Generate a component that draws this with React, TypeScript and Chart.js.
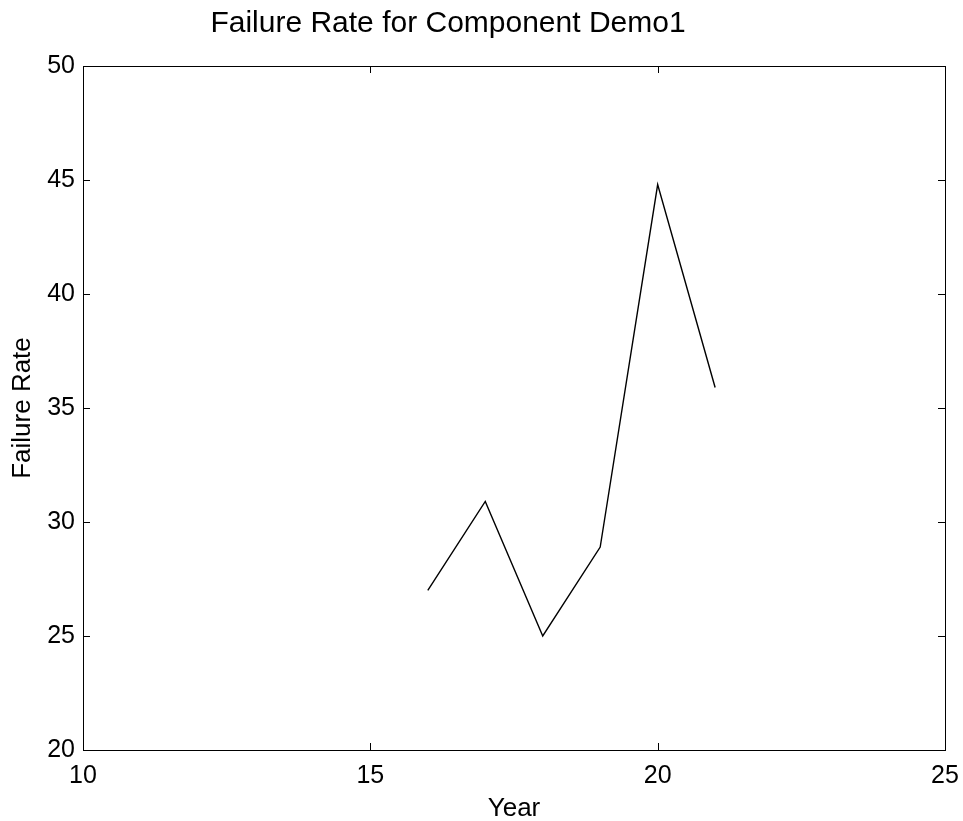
import React, { useEffect, useRef } from "react";
import { Chart, registerables } from "chart.js";

Chart.register(...registerables);

const years = [16, 17, 18, 19, 20, 21];
const failureRate = [27, 30.9, 25, 28.9, 44.8, 35.9];
const xTickValues = [10, 15, 20, 25];
const yTickValues = [20, 25, 30, 35, 40, 45, 50];
const chartTitle = "Failure Rate for Component Demo1";
const xAxisTitle = "Year";
const yAxisTitle = "Failure Rate";

const FONT = "'Liberation Sans', Arial, Helvetica, sans-serif";

const framePlugin = {
  id: "matlabFrame",
  afterLayout(chart: any) {
    const tb = chart.titleBlock;
    if (tb) {
      tb.left = 0;
      tb.right = 896;
    }
  },
  afterDatasetsDraw(chart: any) {
    const { ctx, chartArea: a, scales } = chart;
    const L = 7;
    ctx.save();
    ctx.strokeStyle = "#000";
    ctx.lineWidth = 1;
    ctx.beginPath();
    for (const v of xTickValues) {
      const px = Math.round(scales.x.getPixelForValue(v)) + 0.5;
      ctx.moveTo(px, a.bottom);
      ctx.lineTo(px, a.bottom - L);
      ctx.moveTo(px, a.top);
      ctx.lineTo(px, a.top + L);
    }
    for (const v of yTickValues) {
      const py = Math.round(scales.y.getPixelForValue(v)) + 0.5;
      ctx.moveTo(a.left, py);
      ctx.lineTo(a.left + L, py);
      ctx.moveTo(a.right, py);
      ctx.lineTo(a.right - L, py);
    }
    ctx.stroke();
    ctx.strokeRect(
      Math.round(a.left) + 0.5,
      Math.round(a.top) + 0.5,
      Math.round(a.right - a.left),
      Math.round(a.bottom - a.top)
    );
    ctx.restore();
  },
};

export default function App() {
  const canvasRef = useRef<HTMLCanvasElement | null>(null);

  useEffect(() => {
    if (!canvasRef.current) return;
    Chart.defaults.color = "#000";
    Chart.defaults.font.family = FONT;
    const chart = new Chart(canvasRef.current, {
      type: "line",
      data: {
        datasets: [
          {
            label: yAxisTitle,
            data: years.map((y, i) => ({ x: y, y: failureRate[i] })),
            borderColor: "#000",
            borderWidth: 1.4,
            pointRadius: 0,
            tension: 0,
            fill: false,
          },
        ],
      },
      options: {
        animation: false,
        responsive: true,
        maintainAspectRatio: false,
        layout: { padding: { left: 0, right: 18, top: 0, bottom: 0 } },
        plugins: {
          legend: { display: false },
          tooltip: { enabled: false },
          title: {
            display: true,
            text: chartTitle,
            color: "#000",
            font: { family: FONT, size: 30, weight: "normal" },
            padding: { top: 6, bottom: 24 },
          },
        },
        scales: {
          x: {
            type: "linear",
            min: 10,
            max: 25,
            afterBuildTicks: (s: any) => {
              s.ticks = xTickValues.map((v) => ({ value: v }));
            },
            afterFit: (s: any) => {
              s.height = 71;
              s.paddingLeft = 0;
              s.paddingRight = 0;
            },
            grid: { display: false, drawTicks: false },
            border: { display: false },
            ticks: {
              color: "#000",
              font: { family: FONT, size: 25 },
              padding: 11,
              maxRotation: 0,
              autoSkip: false,
            },
            title: {
              display: true,
              text: xAxisTitle,
              color: "#000",
              font: { family: FONT, size: 26 },
              padding: { top: 0, bottom: -3 },
            },
          },
          y: {
            type: "linear",
            min: 20,
            max: 50,
            afterBuildTicks: (s: any) => {
              s.ticks = yTickValues.map((v) => ({ value: v }));
            },
            afterFit: (s: any) => {
              s.width = 83;
              s.paddingTop = 0;
              s.paddingBottom = 0;
            },
            grid: { display: false, drawTicks: false },
            border: { display: false },
            ticks: {
              color: "#000",
              font: { family: FONT, size: 25 },
              padding: 8,
              autoSkip: false,
            },
            title: {
              display: true,
              text: yAxisTitle,
              color: "#000",
              font: { family: FONT, size: 26 },
              padding: { top: 7, bottom: 0 },
            },
          },
        },
      },
      plugins: [framePlugin],
    } as any);
    return () => chart.destroy();
  }, []);

  return (
    <div
      style={{
        position: "fixed",
        left: 0,
        top: 0,
        width: 963,
        height: 821,
        background: "#fff",
      }}
    >
      <canvas ref={canvasRef} />
    </div>
  );
}
